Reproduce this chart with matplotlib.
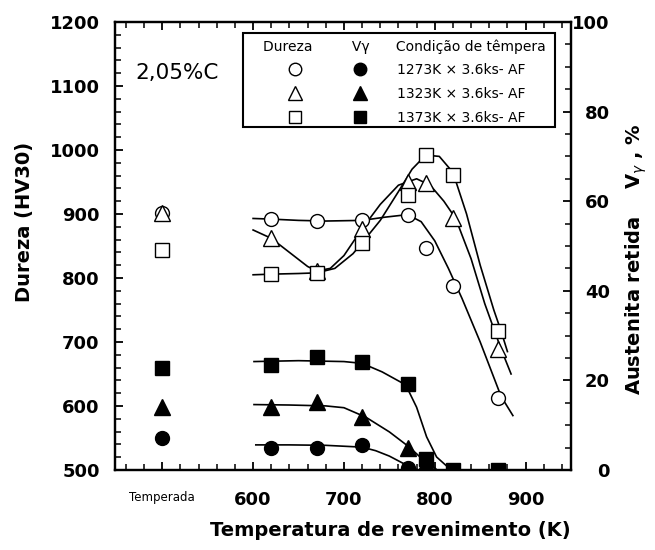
import matplotlib
matplotlib.use("Agg")
import matplotlib.pyplot as plt
from matplotlib.ticker import MultipleLocator
from matplotlib.legend_handler import HandlerTuple
from matplotlib.lines import Line2D
from matplotlib.patches import Rectangle

plt.rcParams["font.family"] = ["DejaVu Sans"]

# Hardness (HV30) measured after tempering
temps = [620, 670, 720, 770, 790, 820, 870]
hv_1273 = [892, 889, 890, 898, 847, 787, 612]
hv_1323 = [862, 811, 877, 950, 948, 894, 689]
hv_1373 = [806, 808, 855, 930, 992, 961, 717]

# as-quenched state (plotted at "Temperada")
t_quench = 500
hv_quench = [902, 902, 843]
v_quench = [7.1, 14.0, 22.7]

# retained austenite Vy (%)
tv_1273 = [620, 670, 720, 770, 790]
v_1273 = [4.8, 4.8, 5.6, 0.5, 0.0]
tv_1323 = [620, 670, 720, 770]
v_1323 = [14.0, 15.2, 11.8, 4.9]
tv_1373 = [620, 670, 720, 770, 790, 820, 870]
v_1373 = [23.4, 25.3, 24.2, 19.1, 2.4, 0.0, 0.0]

# guide curves
ct_hv_1273 = [600, 620, 650, 680, 720, 745, 770, 785, 800, 815, 830, 850, 873, 886]
c_hv_1273 = [893, 892, 890, 889, 890, 895, 899, 888, 858, 815, 768, 700, 615, 585]
ct_hv_1323 = [600, 620, 640, 660, 670, 685, 700, 720, 740, 760, 780, 795, 810, 823, 840, 855, 873, 884]
c_hv_1323 = [875, 862, 840, 818, 811, 815, 835, 877, 915, 945, 955, 945, 920, 893, 830, 760, 689, 650]
ct_hv_1373 = [600, 620, 650, 670, 690, 710, 720, 740, 760, 775, 790, 805, 820, 835, 850, 865, 873, 880]
c_hv_1373 = [805, 806, 807, 808, 815, 838, 855, 890, 935, 970, 992, 990, 965, 900, 820, 750, 717, 685]

ct_v_1273 = [603, 640, 680, 720, 735, 750, 765, 776, 782]
c_v_1273 = [5.6, 5.6, 5.5, 5.1, 4.3, 3.1, 1.5, 0.4, 0.0]
ct_v_1323 = [601, 640, 680, 700, 724, 750, 772, 787, 801]
c_v_1323 = [14.6, 14.5, 14.3, 13.9, 11.8, 8.5, 5.1, 2.3, 0.3]
ct_v_1373 = [601, 650, 700, 720, 742, 768, 780, 791, 802, 813, 824]
c_v_1373 = [24.2, 24.4, 24.2, 23.8, 21.9, 19.0, 14.0, 7.4, 2.9, 0.9, 0.0]

conditions = ["1273K × 3.6ks- AF", "1323K × 3.6ks- AF", "1373K × 3.6ks- AF"]
markers = ["o", "^", "s"]

fig = plt.figure(figsize=(6.55, 5.5), dpi=100)
ax = fig.add_axes([0.1756, 0.1455, 0.6962, 0.8145])
ax2 = ax.twinx()

# guide curves
for ct, c in [(ct_hv_1273, c_hv_1273), (ct_hv_1323, c_hv_1323), (ct_hv_1373, c_hv_1373)]:
    ax.plot(ct, c, color="black", lw=1.2, zorder=2)
for ct, c in [(ct_v_1273, c_v_1273), (ct_v_1323, c_v_1323), (ct_v_1373, c_v_1373)]:
    ax2.plot(ct, c, color="black", lw=1.2, zorder=2)

# hardness, open markers
for hv, m, q in zip([hv_1273, hv_1323, hv_1373], markers, hv_quench):
    ms = 11 if m == "^" else 10
    ax.plot(temps, hv, ls="none", marker=m, ms=ms, mfc="white", mec="black", mew=1.0, zorder=3)
    ax.plot([t_quench], [q], ls="none", marker=m, ms=ms, mfc="white", mec="black", mew=1.0, zorder=3)

# retained austenite, filled markers
for tv, v, m, q in zip([tv_1273, tv_1323, tv_1373], [v_1273, v_1323, v_1373], markers, v_quench):
    ms = 11 if m == "^" else 10
    ax2.plot(tv, v, ls="none", marker=m, ms=ms, color="black", zorder=3)
    ax2.plot([t_quench], [q], ls="none", marker=m, ms=ms, color="black", zorder=3)

ax.set_xlim(448, 950)
ax.set_ylim(500, 1200)
ax2.set_ylim(0, 100)

ax.set_xticks([500, 600, 700, 800, 900])
ax.set_xticklabels(["Temperada", "600", "700", "800", "900"])
ax.xaxis.set_minor_locator(MultipleLocator(20))
ax.yaxis.set_major_locator(MultipleLocator(100))
ax.yaxis.set_minor_locator(MultipleLocator(20))
ax2.yaxis.set_major_locator(MultipleLocator(20))
ax2.yaxis.set_minor_locator(MultipleLocator(5))

ax.tick_params(axis="x", which="both", direction="in", top=True, bottom=True, pad=15)
ax.tick_params(axis="y", which="both", direction="in", left=True, right=False, pad=11)
ax.tick_params(which="major", length=6, width=1.3)
ax.tick_params(which="minor", length=4, width=1.1)
ax2.tick_params(axis="y", which="both", direction="in", right=True, pad=28)
ax2.tick_params(which="major", length=6, width=1.3)
ax2.tick_params(which="minor", length=4, width=1.1)

for lab in ax.get_xticklabels() + ax.get_yticklabels() + ax2.get_yticklabels():
    lab.set_fontsize(13)
    lab.set_fontweight("bold")
for lab in ax2.get_yticklabels():
    lab.set_ha("right")
first = ax.get_xticklabels()[0]
first.set_fontsize(8.5)
first.set_fontweight("normal")

for sp in ax.spines.values():
    sp.set_linewidth(1.6)
for sp in ax2.spines.values():
    sp.set_linewidth(1.6)

ax.set_xlabel("Temperatura de revenimento (K)", fontsize=14, fontweight="bold")
ax.xaxis.set_label_coords(0.603, -0.113)
ax.set_ylabel("Dureza (HV30)", fontsize=14, fontweight="bold")
ax.yaxis.set_label_coords(-0.178, 0.554)
ax2.set_ylabel("Austenita retida    V$_\\gamma$ , %", fontsize=14, fontweight="bold")
ax2.yaxis.set_label_coords(1.116, 0.47)

ax.text(0.044, 0.886, "2,05%C", transform=ax.transAxes, fontsize=15.5, va="center", ha="left")

# legend: open (hardness) and filled (Vy) marker per condition
handles = []
for m in markers:
    ms = 10 if m == "^" else 9
    h_open = Line2D([], [], ls="none", marker=m, ms=ms, mfc="white", mec="black", mew=1.0)
    h_fill = Line2D([], [], ls="none", marker=m, ms=ms, color="black")
    handles.append((h_open, h_fill))

leg = ax2.legend(handles, conditions, loc="upper left",
                 bbox_to_anchor=(0.3246, 0.962),
                 handler_map={tuple: HandlerTuple(ndivide=None, pad=0.07)},
                 handlelength=9.28, handletextpad=0.36, borderpad=0,
                 borderaxespad=0, labelspacing=0.7, fontsize=10, numpoints=1,
                 title="Dureza         Vγ      Condição de têmpera",
                 title_fontsize=10, alignment="left", frameon=False)
leg.set_zorder(5)

# legend box
ax2.add_patch(Rectangle((0.2807, 0.7656), 0.684, 0.2098, transform=ax2.transAxes,
                        fill=False, edgecolor="black", lw=1.5, zorder=4, clip_on=False))

fig.savefig("out.png", dpi=100)
